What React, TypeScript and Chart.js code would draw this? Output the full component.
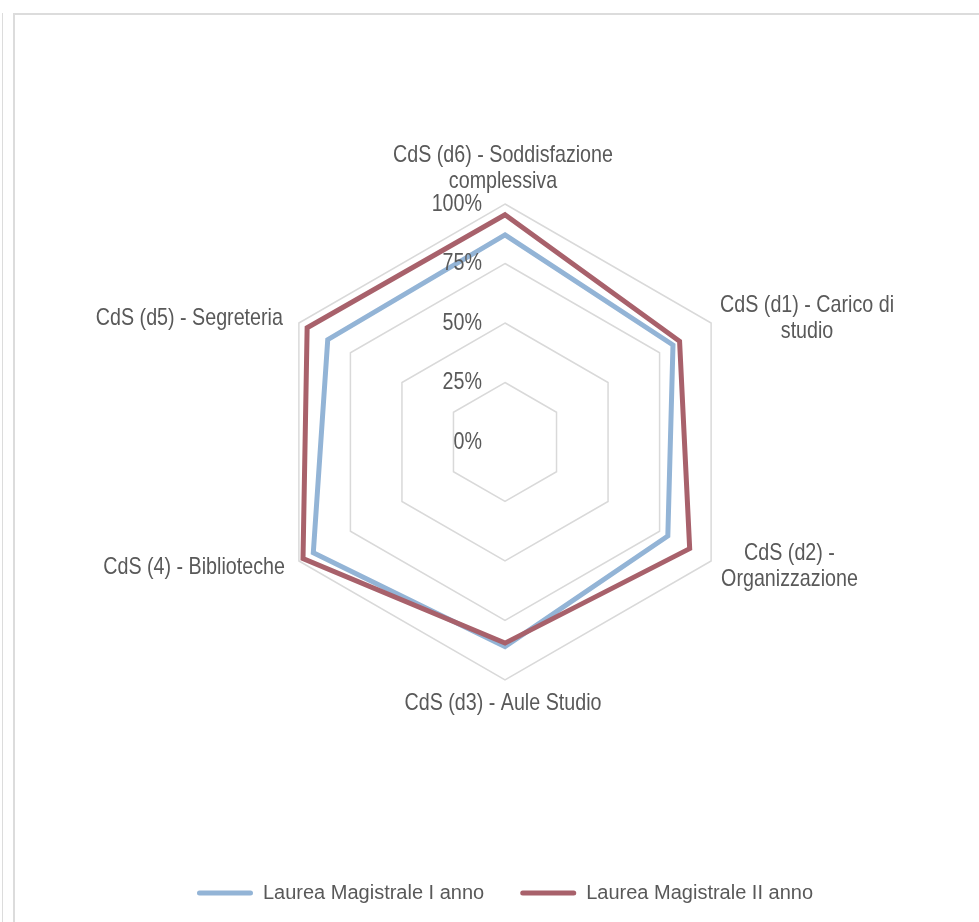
import React, { useEffect, useRef } from "react";
import { Chart, registerables } from "chart.js";

Chart.register(...registerables);

const categories: string[][] = [
  ["CdS (d6) - Soddisfazione", "complessiva"],
  ["CdS (d1) - Carico di", "studio"],
  ["CdS (d2) -", "Organizzazione"],
  ["CdS (d3) - Aule Studio"],
  ["CdS (4) - Biblioteche"],
  ["CdS (d5) - Segreteria"],
];
const seriesNames = ["Laurea Magistrale I anno", "Laurea Magistrale II anno"];
const valuesI = [87, 81.5, 79, 86, 93, 86];
const valuesII = [95.5, 84.7, 89.6, 84.5, 98, 96];
const tickValues = [0, 25, 50, 75, 100];

const FONT_FAMILY = "'Liberation Sans', Arial, sans-serif";
const TEXT_COLOR = "#595959";
const BLUE = "#93B4D6";
const RED = "#A8616B";
const NARROW = 0.82;

// label placement relative to the 100% vertex: mode, dx, first line dy
const labelPlacement: { mode: "center" | "left" | "right"; dx: number; dy: number }[] = [
  { mode: "center", dx: -2, dy: -49 },
  { mode: "left", dx: 9, dy: -18 },
  { mode: "left", dx: 10, dy: -8 },
  { mode: "center", dx: -2, dy: 23 },
  { mode: "right", dx: -14, dy: 6 },
  { mode: "right", dx: -16, dy: -5 },
];
const LINE_H = 26.5;

function narrowText(ctx: CanvasRenderingContext2D, text: string, x: number, y: number) {
  ctx.save();
  ctx.translate(x, y);
  ctx.scale(NARROW, 1);
  ctx.fillText(text, 0, 0);
  ctx.restore();
}

const labelPlugin = {
  id: "customLabels",
  afterDraw(chart: any) {
    const scale = chart.scales.r;
    const ctx = chart.ctx as CanvasRenderingContext2D;
    ctx.save();
    ctx.font = `24px ${FONT_FAMILY}`;
    ctx.fillStyle = TEXT_COLOR;
    ctx.textBaseline = "middle";
    ctx.textAlign = "right";
    tickValues.forEach((v) => {
      const d = scale.getDistanceFromCenterForValue(v);
      narrowText(ctx, `${v}%`, scale.xCenter - 23, scale.yCenter - d);
    });
    ctx.textAlign = "center";
    categories.forEach((lines, i) => {
      const p = scale.getPointPosition(i, scale.drawingArea);
      const pl = labelPlacement[i];
      const w = Math.max(...lines.map((l) => ctx.measureText(l).width)) * NARROW;
      let cx = p.x + pl.dx;
      if (pl.mode === "left") cx = p.x + pl.dx + w / 2;
      if (pl.mode === "right") cx = p.x + pl.dx - w / 2;
      lines.forEach((l, j) => narrowText(ctx, l, cx, p.y + pl.dy + j * LINE_H));
    });
    ctx.restore();
  },
};

function RadarChart() {
  const ref = useRef<HTMLCanvasElement | null>(null);
  useEffect(() => {
    if (!ref.current) return;
    const chart = new Chart(ref.current, {
      type: "radar",
      data: {
        labels: categories,
        datasets: [
          {
            label: seriesNames[0],
            data: valuesI,
            borderColor: BLUE,
            backgroundColor: BLUE,
            borderWidth: 5,
            fill: false,
            pointRadius: 0,
            pointHoverRadius: 0,
            borderJoinStyle: "miter",
            order: 1,
          },
          {
            label: seriesNames[1],
            data: valuesII,
            borderColor: RED,
            backgroundColor: RED,
            borderWidth: 5,
            fill: false,
            pointRadius: 0,
            pointHoverRadius: 0,
            borderJoinStyle: "miter",
            order: 0,
          },
        ],
      },
      options: {
        responsive: false,
        animation: false,
        layout: { padding: { left: 40, right: 9, top: 204, bottom: 9 } },
        scales: {
          r: {
            min: 0,
            max: 100,
            beginAtZero: true,
            angleLines: { display: false },
            grid: { color: "#d9d9d9", lineWidth: 1.5, circular: false },
            ticks: { display: false, stepSize: 25 },
            pointLabels: { display: false },
          },
        },
        plugins: {
          tooltip: { enabled: false },
          legend: {
            position: "bottom",
            title: { display: true, text: "", padding: { top: 167, bottom: 0 }, font: { size: 0 } },
            labels: {
              font: { family: FONT_FAMILY, size: 20 },
              color: TEXT_COLOR,
              boxWidth: 56,
              boxHeight: 5,
              padding: 36,
              useBorderRadius: true,
              borderRadius: 2.5,
              generateLabels: (ch: any) =>
                ch.data.datasets.map((ds: any, i: number) => ({
                  text: ds.label,
                  fillStyle: ds.borderColor,
                  strokeStyle: ds.borderColor,
                  lineWidth: 0,
                  hidden: false,
                  datasetIndex: i,
                  fontColor: TEXT_COLOR,
                  borderRadius: 2.5,
                })),
            },
          },
        },
      },
      plugins: [labelPlugin],
    });
    return () => chart.destroy();
  }, []);
  return <canvas ref={ref} width={979} height={922} style={{ position: "absolute", left: 0, top: 0, width: 979, height: 922 }} />;
}

export default function App() {
  return (
    <div style={{ position: "absolute", left: 0, top: 0, width: 979, height: 922, background: "#ffffff", overflow: "hidden" }}>
      <div style={{ position: "absolute", left: 2, top: 13, width: 1, height: 909, background: "#dcdcdc" }} />
      <div style={{ position: "absolute", left: 13, top: 13, width: 966, height: 2, background: "#dcdcdc" }} />
      <div style={{ position: "absolute", left: 13, top: 13, width: 2, height: 909, background: "#dcdcdc" }} />
      <RadarChart />
    </div>
  );
}
